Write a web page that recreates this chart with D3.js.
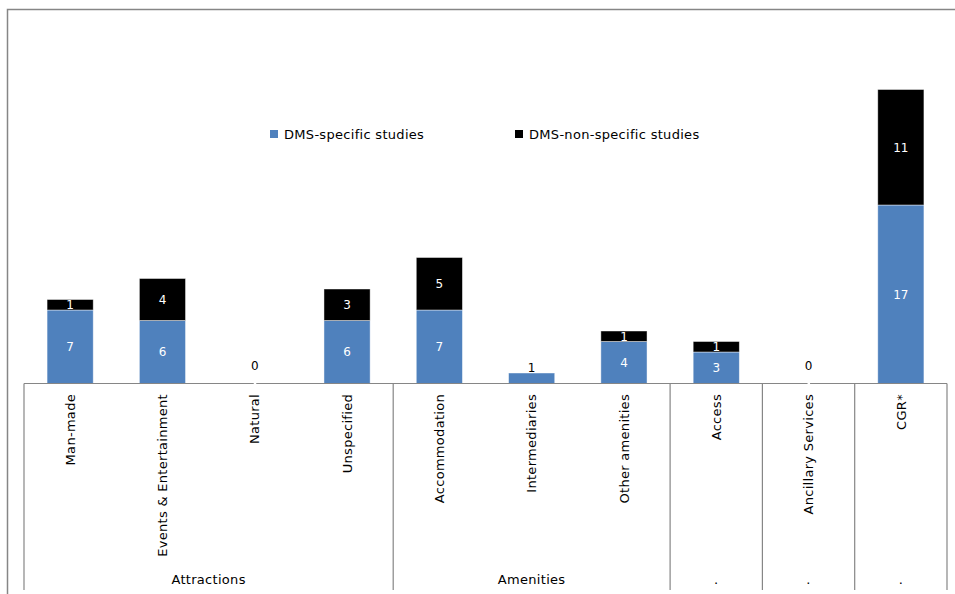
<!DOCTYPE html>
<html>
<head>
<meta charset="utf-8">
<script src="https://cdn.jsdelivr.net/npm/d3@7"></script>
<style>
  html, body { margin: 0; padding: 0; background: #fff; }
  svg { display: block; }
  text { font-family: "DejaVu Sans", Verdana, sans-serif; }
</style>
</head>
<body>
<svg id="chart" width="955" height="594"></svg>
<script>
// Tourism destination components covered by the studies
const categories = ["Man-made", "Events & Entertainment", "Natural", "Unspecified",
  "Accommodation", "Intermediaries", "Other amenities", "Access",
  "Ancillary Services", "CGR*"];
const dmsSpecific    = [7, 6, 0, 6, 7, 1, 4, 3, 0, 17];
const dmsNonSpecific = [1, 4, 0, 3, 5, 0, 1, 1, 0, 11];
const seriesNames = ["DMS-specific studies", "DMS-non-specific studies"];
const seriesColors = ["#4F81BD", "#000000"];
const groupNames = ["Attractions", "Amenities", ".", ".", "."];
const groupSizes = [4, 3, 1, 1, 1];

const svg = d3.select("#chart");
const axisColor = "#868686";

// outer chart frame
svg.append("rect")
  .attr("x", 7.5).attr("y", 9.5)
  .attr("width", 970).attr("height", 610)
  .attr("fill", "#fff")
  .attr("stroke", axisColor).attr("stroke-width", 1.5);

const x = d3.scaleBand()
  .domain(categories)
  .range([24, 947])
  .paddingInner(0.5)
  .paddingOuter(0.25);

const y = d3.scaleLinear()
  .domain([0, 30])
  .range([383.5, 68.5]);

const rows = categories.map((c, i) => ({ cat: c, s: dmsSpecific[i], n: dmsNonSpecific[i] }));
const stacked = d3.stack().keys(["s", "n"])(rows);

// bars
svg.append("g").selectAll("g")
  .data(stacked)
  .join("g")
  .attr("fill", (d, i) => seriesColors[i])
  .selectAll("rect")
  .data(d => d.filter(p => p[1] - p[0] > 0))
  .join("rect")
  .attr("x", d => x(d.data.cat))
  .attr("width", x.bandwidth())
  .attr("y", d => y(d[1]))
  .attr("height", d => y(d[0]) - y(d[1]))
  .attr("stroke", "rgba(255,255,255,0.55)")
  .attr("stroke-width", 0.8);

// segment labels
const lbl = svg.append("g")
  .attr("font-size", 12)
  .attr("text-anchor", "middle");

stacked.forEach((layer, li) => {
  layer.forEach(p => {
    const v = p[1] - p[0];
    if (v <= 0) return;
    const cx = x(p.data.cat) + x.bandwidth() / 2;
    const h = y(p[0]) - y(p[1]);
    if (h < 12 && li === 0 && p.data.n === 0) {
      // too short to hold its label: sit it on top of the bar
      lbl.append("text").attr("x", cx).attr("y", y(p[1]) - 1)
        .attr("fill", "#000").text(v);
    } else {
      lbl.append("text").attr("x", cx).attr("y", (y(p[0]) + y(p[1])) / 2)
        .attr("dy", "0.36em").attr("fill", "#fff").text(v);
    }
  });
});

// zero-valued categories
rows.filter(r => r.s + r.n === 0).forEach(r => {
  const cx = x(r.cat) + x.bandwidth() / 2;
  lbl.append("text").attr("x", cx).attr("y", y(0) - 13.5).attr("fill", "#000").text(0);
});

// category axis
const axisY = y(0);
svg.append("line")
  .attr("x1", 24).attr("x2", 947)
  .attr("y1", axisY).attr("y2", axisY)
  .attr("stroke", axisColor).attr("stroke-width", 1);

// white gaps over the axis at zero-valued categories
rows.filter(r => r.s + r.n === 0).forEach(r => {
  const cx = x(r.cat) + x.bandwidth() / 2;
  svg.append("rect").attr("x", cx - 1).attr("y", axisY - 1.5).attr("width", 2.5).attr("height", 3).attr("fill", "#fff");
});

svg.append("g")
  .attr("font-size", 13)
  .attr("letter-spacing", 0.3)
  .attr("fill", "#000")
  .selectAll("text")
  .data(categories)
  .join("text")
  .attr("transform", d => `translate(${x(d) + x.bandwidth() / 2},394) rotate(-90)`)
  .attr("text-anchor", "end")
  .attr("dy", "0.36em")
  .text(d => d);

// group separators and group labels
const step = x.step();
const x0 = x.range()[0];
let start = 0;
const bounds = [0];
groupSizes.forEach(n => { start += n; bounds.push(start); });
svg.append("g").selectAll("line")
  .data(bounds)
  .join("line")
  .attr("x1", d => x0 + d * step).attr("x2", d => x0 + d * step)
  .attr("y1", axisY).attr("y2", 590)
  .attr("stroke", axisColor).attr("stroke-width", 1.2);

svg.append("g")
  .attr("font-size", 13)
  .attr("letter-spacing", 0.3)
  .attr("text-anchor", "middle")
  .selectAll("text")
  .data(groupNames)
  .join("text")
  .attr("x", (d, i) => x0 + (bounds[i] + bounds[i + 1]) / 2 * step)
  .attr("y", 584)
  .text(d => d);

// legend
const legendX = [270, 515];
const legend = svg.append("g").attr("font-size", 13).attr("letter-spacing", 0.3);
seriesNames.forEach((name, i) => {
  legend.append("rect").attr("x", legendX[i]).attr("y", 130).attr("width", 8).attr("height", 8)
    .attr("fill", seriesColors[i]);
  legend.append("text").attr("x", legendX[i] + 14).attr("y", 138.5).text(name);
});
</script>
</body>
</html>
